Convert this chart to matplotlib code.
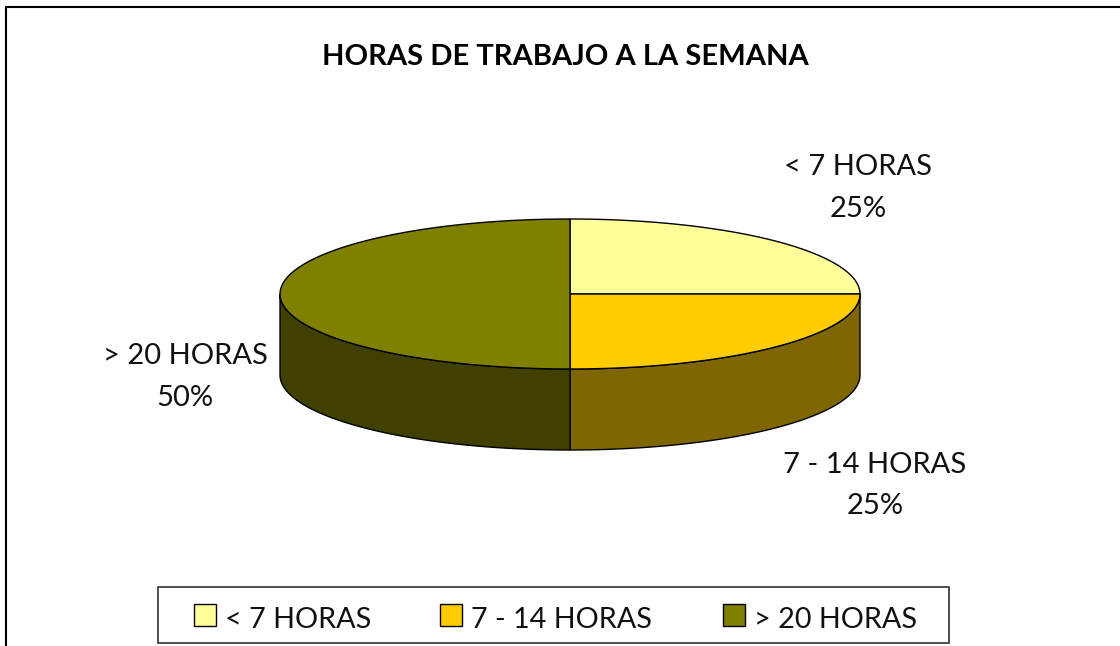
import numpy as np
import matplotlib
matplotlib.use("Agg")
import matplotlib.pyplot as plt
from matplotlib.patches import Polygon, Rectangle

# 3d look pie of weekly work hours, drawn in pixel coords

categories = ["< 7 HORAS", "7 - 14 HORAS", "> 20 HORAS"]
shares = [25, 25, 50]
colors_top = ["#FFFF99", "#FFCC00", "#808000"]
colors_side = ["#808080", "#806600", "#404000"]
title = "HORAS DE TRABAJO A LA SEMANA"

W, H = 1120, 646
CX, CY = 570, 294
RX, RY = 290, 75
DEPTH = 81
FONT = ["Lato", "DejaVu Sans"]
INK = "#111111"

plt.rcParams["font.family"] = FONT

fig = plt.figure(figsize=(W / 100, H / 100), dpi=100)
ax = fig.add_axes([0, 0, 1, 1])
ax.set_xlim(0, W)
ax.set_ylim(H, 0)
ax.axis("off")


def rim(a0, a1):
    # angles clockwise from 12 o'clock, degrees
    t = np.radians(np.linspace(a0, a1, 120))
    return CX + RX * np.sin(t), CY - RY * np.cos(t)


# chart frame, cropped at the right and bottom of the picture
ax.plot([6, 6, W], [H, 6.5, 6.5], color="black", lw=1.5, solid_joinstyle="miter")

# slices run clockwise from 12 o'clock
edges = np.cumsum([0] + shares) / sum(shares) * 360
for i in range(len(shares)):
    a0, a1 = edges[i], edges[i + 1]
    # side wall only for the front half
    s0, s1 = max(a0, 90), min(a1, 270)
    if s1 > s0:
        x, y = rim(s0, s1)
        pts = np.r_[np.c_[x, y], np.c_[x[::-1], y[::-1] + DEPTH]]
        ax.add_patch(Polygon(pts, closed=True, fc=colors_side[i], ec="black", lw=1, zorder=2))
for i in range(len(shares)):
    x, y = rim(edges[i], edges[i + 1])
    pts = np.r_[[[CX, CY]], np.c_[x, y]]
    ax.add_patch(Polygon(pts, closed=True, fc=colors_top[i], ec="black", lw=1, zorder=3))

ax.text(565, 57, title, ha="center", va="center", fontsize=21, fontweight="bold", color="black")

# data labels
label_pos = [(858, 188), (875, 485.5), (185, 377)]
for cat, val, (lx, ly) in zip(categories, shares, label_pos):
    ax.text(lx, ly, f"{cat}\n{val}%", ha="center", va="center", fontsize=21,
            color=INK, linespacing=1.76)

# legend box
ax.add_patch(Rectangle((157.5, 586.5), 791, 56, fc="white", ec="#333333", lw=1.2, zorder=2))
swatch_x = [194, 440, 723]
for cat, col, sx in zip(categories, colors_top, swatch_x):
    ax.add_patch(Rectangle((sx, 604), 22, 22, fc=col, ec="black", lw=1, zorder=3))
    ax.text(sx + 31, 620, cat, ha="left", va="center", fontsize=20.7, color=INK, zorder=3)

fig.savefig("out.png", dpi=100)
